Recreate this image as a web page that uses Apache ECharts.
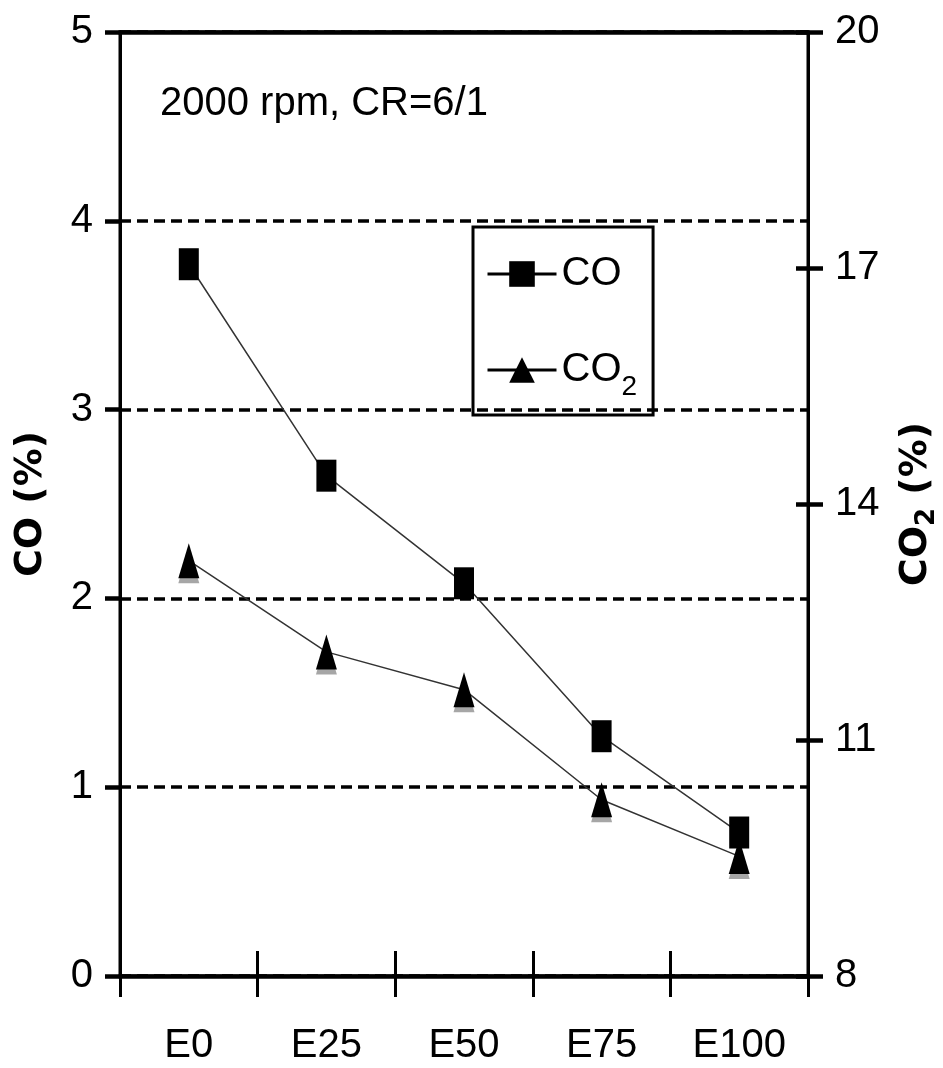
<!DOCTYPE html>
<html>
<head>
<meta charset="utf-8">
<script src="https://cdn.jsdelivr.net/npm/echarts@6/dist/echarts.min.js"></script>
<style>html,body{margin:0;padding:0;background:#fff}#c{width:943px;height:1068px}</style>
</head>
<body>
<div id="c"></div>
<script>
const categories = ['E0', 'E25', 'E50', 'E75', 'E100'];
const coValues = [3.77, 2.65, 2.08, 1.27, 0.76];
const co2Values = [13.28, 12.12, 11.64, 10.24, 9.52];
const coTicks = { min: 0, max: 5, interval: 1 };
const co2Ticks = { min: 8, max: 20, interval: 3 };
const annotation = '2000 rpm, CR=6/1';

const FONT = "'Liberation Sans', Arial, sans-serif";
const BOLD = "'DejaVu Sans', sans-serif";
const chart = echarts.init(document.getElementById('c'), null, { renderer: 'canvas' });

const labelStyle = { color: '#000', fontFamily: FONT, fontSize: 40 };

chart.setOption({
  animation: false,
  backgroundColor: '#fff',
  grid: { left: 120, right: 135, top: 32, bottom: 92, show: true, borderColor: '#000', borderWidth: 3, backgroundColor: 'transparent', containLabel: false, outerBoundsMode: 'none' },
  graphic: [{
    type: 'text', left: 160, top: 84, z: 10,
    style: { text: annotation, fill: '#000', font: '40px ' + FONT }
  }],
  legend: {
    left: 473, top: 227, orient: 'vertical',
    borderColor: '#000', borderWidth: 3, padding: [22, 16, 14, 13],
    itemWidth: 69, itemHeight: 32, itemGap: 46,
    lineStyle: { color: '#000', width: 3 },
    textStyle: {
      color: '#000', fontFamily: FONT, fontSize: 40, lineHeight: 50,
      rich: {
        n: { fontFamily: FONT, fontSize: 40, color: '#000' },
        s: { fontFamily: FONT, fontSize: 28, color: '#000', padding: [34, 0, 0, 0] }
      }
    },
    formatter: function (name) { return name === 'CO2' ? '{n|CO}{s|2}' : '{n|' + name + '}'; },
    data: ['CO', 'CO2']
  },
  xAxis: [{
    type: 'category', data: categories, position: 'bottom', boundaryGap: true,
    axisLine: { lineStyle: { color: '#000', width: 4.5 } },
    axisTick: { show: true, inside: false, length: 21, lineStyle: { color: '#000', width: 3 } },
    axisLabel: Object.assign({ margin: 50, interval: 0 }, labelStyle),
    splitLine: { show: false }
  }, {
    type: 'category', data: categories, position: 'bottom', boundaryGap: true,
    axisLine: { show: false },
    axisTick: { show: true, inside: true, length: 25, lineStyle: { color: '#000', width: 3 } },
    axisLabel: { show: false }, splitLine: { show: false }
  }, {
    type: 'category', data: categories, position: 'top', boundaryGap: true,
    axisLine: { show: true, lineStyle: { color: '#000', width: 4.5 } },
    axisTick: { show: false }, axisLabel: { show: false }, splitLine: { show: false }
  }],
  yAxis: [{
    type: 'value', position: 'left', min: coTicks.min, max: coTicks.max, interval: coTicks.interval,
    name: 'CO (%)', nameLocation: 'middle', nameGap: 70, nameRotate: 90,
    nameTextStyle: { color: '#000', fontFamily: BOLD, fontWeight: 'bold', fontSize: 38 },
    axisLine: { show: true, lineStyle: { color: '#000', width: 3 } },
    axisTick: { show: true, inside: false, length: 15, lineStyle: { color: '#000', width: 4.5 } },
    axisLabel: Object.assign({ margin: 27 }, labelStyle),
    splitLine: { show: true, lineStyle: { color: '#000', width: 3.5, type: [11, 6] } }
  }, {
    type: 'value', position: 'right', min: co2Ticks.min, max: co2Ticks.max, interval: co2Ticks.interval,
    name: '{a|CO}{b|2}{a| (%)}', nameLocation: 'middle', nameGap: 84, nameRotate: 90,
    nameTextStyle: {
      color: '#000',
      rich: {
        a: { fontFamily: BOLD, fontWeight: 'bold', fontSize: 38, color: '#000' },
        b: { fontFamily: BOLD, fontWeight: 'bold', fontSize: 26, color: '#000', padding: [22, 0, 0, 0] }
      }
    },
    axisLine: { show: true, lineStyle: { color: '#000', width: 3 } },
    axisTick: { show: true, inside: false, length: 15, lineStyle: { color: '#000', width: 4.5 } },
    axisLabel: Object.assign({ margin: 27 }, labelStyle),
    splitLine: { show: false }
  }, {
    type: 'value', position: 'right', min: co2Ticks.min, max: co2Ticks.max, interval: co2Ticks.interval,
    axisLine: { show: false },
    axisTick: { show: true, inside: true, length: 12, lineStyle: { color: '#000', width: 4.5 } },
    axisLabel: { show: false }, splitLine: { show: false }
  }],
  series: [{
    name: 'CO', type: 'line', xAxisIndex: 0, yAxisIndex: 0, data: coValues, z: 4,
    symbol: 'rect', symbolSize: [20, 32],
    lineStyle: { color: '#333', width: 1.5 },
    itemStyle: { color: '#000' }
  }, {
    name: 'CO2', type: 'line', xAxisIndex: 0, yAxisIndex: 1, data: co2Values, z: 3,
    symbol: 'triangle', symbolSize: [21, 35],
    lineStyle: { color: '#333', width: 1.5 },
    itemStyle: { color: '#000', shadowColor: 'rgba(0,0,0,0.35)', shadowOffsetY: 5, shadowBlur: 0 }
  }]
});
</script>
</body>
</html>
